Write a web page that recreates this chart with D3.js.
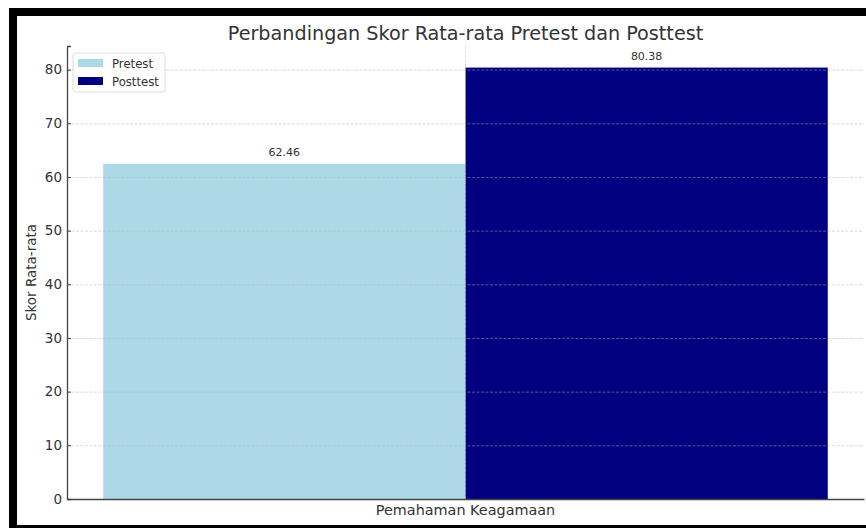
<!DOCTYPE html>
<html>
<head>
<meta charset="utf-8">
<script src="https://cdn.jsdelivr.net/npm/d3@7"></script>
<style>
  html, body { margin: 0; padding: 0; background: #fff; }
  svg { display: block; font-family: "DejaVu Sans", sans-serif; }
</style>
</head>
<body>
<svg id="chart" width="866" height="528"></svg>
<script>
  // data
  var categories = ['Pemahaman Keagamaan'],
      seriesNames = ['Pretest', 'Posttest'],
      seriesColors = ['#add8e6', '#000080'],
      pretestValues = [62.46],
      posttestValues = [80.38],
      yTicks = [0, 10, 20, 30, 40, 50, 60, 70, 80];

  var seriesValues = [pretestValues, posttestValues];

  var svg = d3.select('#chart'),
      margin = {top: 46, left: 67, right: 2, bottom: 29},
      width = 866 - margin.left - margin.right,
      height = 528 - margin.top - margin.bottom,
      textColor = '#333';

  // outer black frame (right side is cut off in the picture)
  svg.append('rect')
    .attr('x', 13).attr('y', 12)
    .attr('width', 866).attr('height', 517)
    .attr('fill', 'none')
    .attr('stroke', '#000')
    .attr('stroke-width', 8);

  var g = svg.append('g')
    .attr('transform', 'translate(' + margin.left + ',' + margin.top + ')');

  var yMax = d3.max(seriesValues, function(s) { return d3.max(s); }) * 1.05;
  var y = d3.scaleLinear().domain([0, yMax]).range([height, 0]);

  // outer band holds the category, inner band the two series
  var x0 = d3.scaleBand().domain(categories).range([0, width]).paddingOuter(0.05).paddingInner(0);
  var x1 = d3.scaleBand().domain(seriesNames).range([0, x0.bandwidth()]).padding(0);

  // bars
  categories.forEach(function(cat, ci) {
    seriesNames.forEach(function(name, si) {
      var v = seriesValues[si][ci];
      g.append('rect')
        .attr('x', x0(cat) + x1(name))
        .attr('y', y(v))
        .attr('width', x1.bandwidth())
        .attr('height', height - y(v))
        .attr('fill', seriesColors[si]);
      g.append('text')
        .attr('x', x0(cat) + x1(name) + x1.bandwidth() / 2)
        .attr('y', y(v) - 8)
        .attr('text-anchor', 'middle')
        .attr('font-size', 11)
        .attr('fill', textColor)
        .text(v.toFixed(2));
    });
  });

  // grid on top of the bars
  g.append('g')
    .selectAll('line')
    .data(yTicks)
    .join('line')
    .attr('x1', 0).attr('x2', width)
    .attr('y1', function(d) { return y(d) + 0.5; })
    .attr('y2', function(d) { return y(d) + 0.5; })
    .attr('stroke', '#b0b0b0')
    .attr('stroke-opacity', 0.6)
    .attr('stroke-dasharray', '3,1.5')
    .attr('stroke-width', 0.8);
  g.append('g')
    .selectAll('line')
    .data(categories)
    .join('line')
    .attr('x1', function(d) { return x0(d) + x0.bandwidth() / 2; })
    .attr('x2', function(d) { return x0(d) + x0.bandwidth() / 2; })
    .attr('y1', 0).attr('y2', height)
    .attr('stroke', '#b0b0b0')
    .attr('stroke-opacity', 0.6)
    .attr('stroke-dasharray', '3,1.5')
    .attr('stroke-width', 0.8);

  // y axis
  var yAxis = g.append('g')
    .call(d3.axisLeft(y).tickValues(yTicks).tickSize(-4).tickPadding(5));
  yAxis.select('.domain').attr('stroke', '#444').attr('stroke-width', 1.3);
  yAxis.selectAll('.tick line').attr('stroke', '#444');
  yAxis.selectAll('.tick text')
    .attr('font-size', 13.5)
    .attr('font-family', '"DejaVu Sans", sans-serif')
    .attr('fill', textColor);

  // x axis (baseline only, category as label)
  var xAxis = g.append('g')
    .attr('transform', 'translate(0,' + height + ')')
    .call(d3.axisBottom(x0).tickSize(0).tickPadding(5.5));
  xAxis.select('.domain').attr('stroke', '#444').attr('stroke-width', 1.3);
  xAxis.selectAll('.tick text')
    .attr('font-size', 14.4)
    .attr('font-family', '"DejaVu Sans", sans-serif')
    .attr('fill', textColor);

  // title
  svg.append('text')
    .attr('x', margin.left + width / 2)
    .attr('y', 39.5)
    .attr('text-anchor', 'middle')
    .attr('font-size', 19.2)
    .attr('fill', textColor)
    .text('Perbandingan Skor Rata-rata Pretest dan Posttest');

  // y label
  svg.append('text')
    .attr('transform', 'translate(36,' + (margin.top + height / 2) + ') rotate(-90)')
    .attr('text-anchor', 'middle')
    .attr('font-size', 13.5)
    .attr('fill', textColor)
    .text('Skor Rata-rata');

  // legend
  var legend = svg.append('g').attr('transform', 'translate(73,53)');
  legend.append('rect')
    .attr('width', 92).attr('height', 39)
    .attr('rx', 3)
    .attr('fill', '#fff')
    .attr('fill-opacity', 0.8)
    .attr('stroke', '#ddd');
  seriesNames.forEach(function(name, i) {
    legend.append('rect')
      .attr('x', 5).attr('y', 6 + i * 18)
      .attr('width', 25).attr('height', 8)
      .attr('fill', seriesColors[i]);
    legend.append('text')
      .attr('x', 39).attr('y', 14.5 + i * 18)
      .attr('font-size', 11.7)
      .attr('fill', textColor)
      .text(name);
  });
</script>
</body>
</html>
